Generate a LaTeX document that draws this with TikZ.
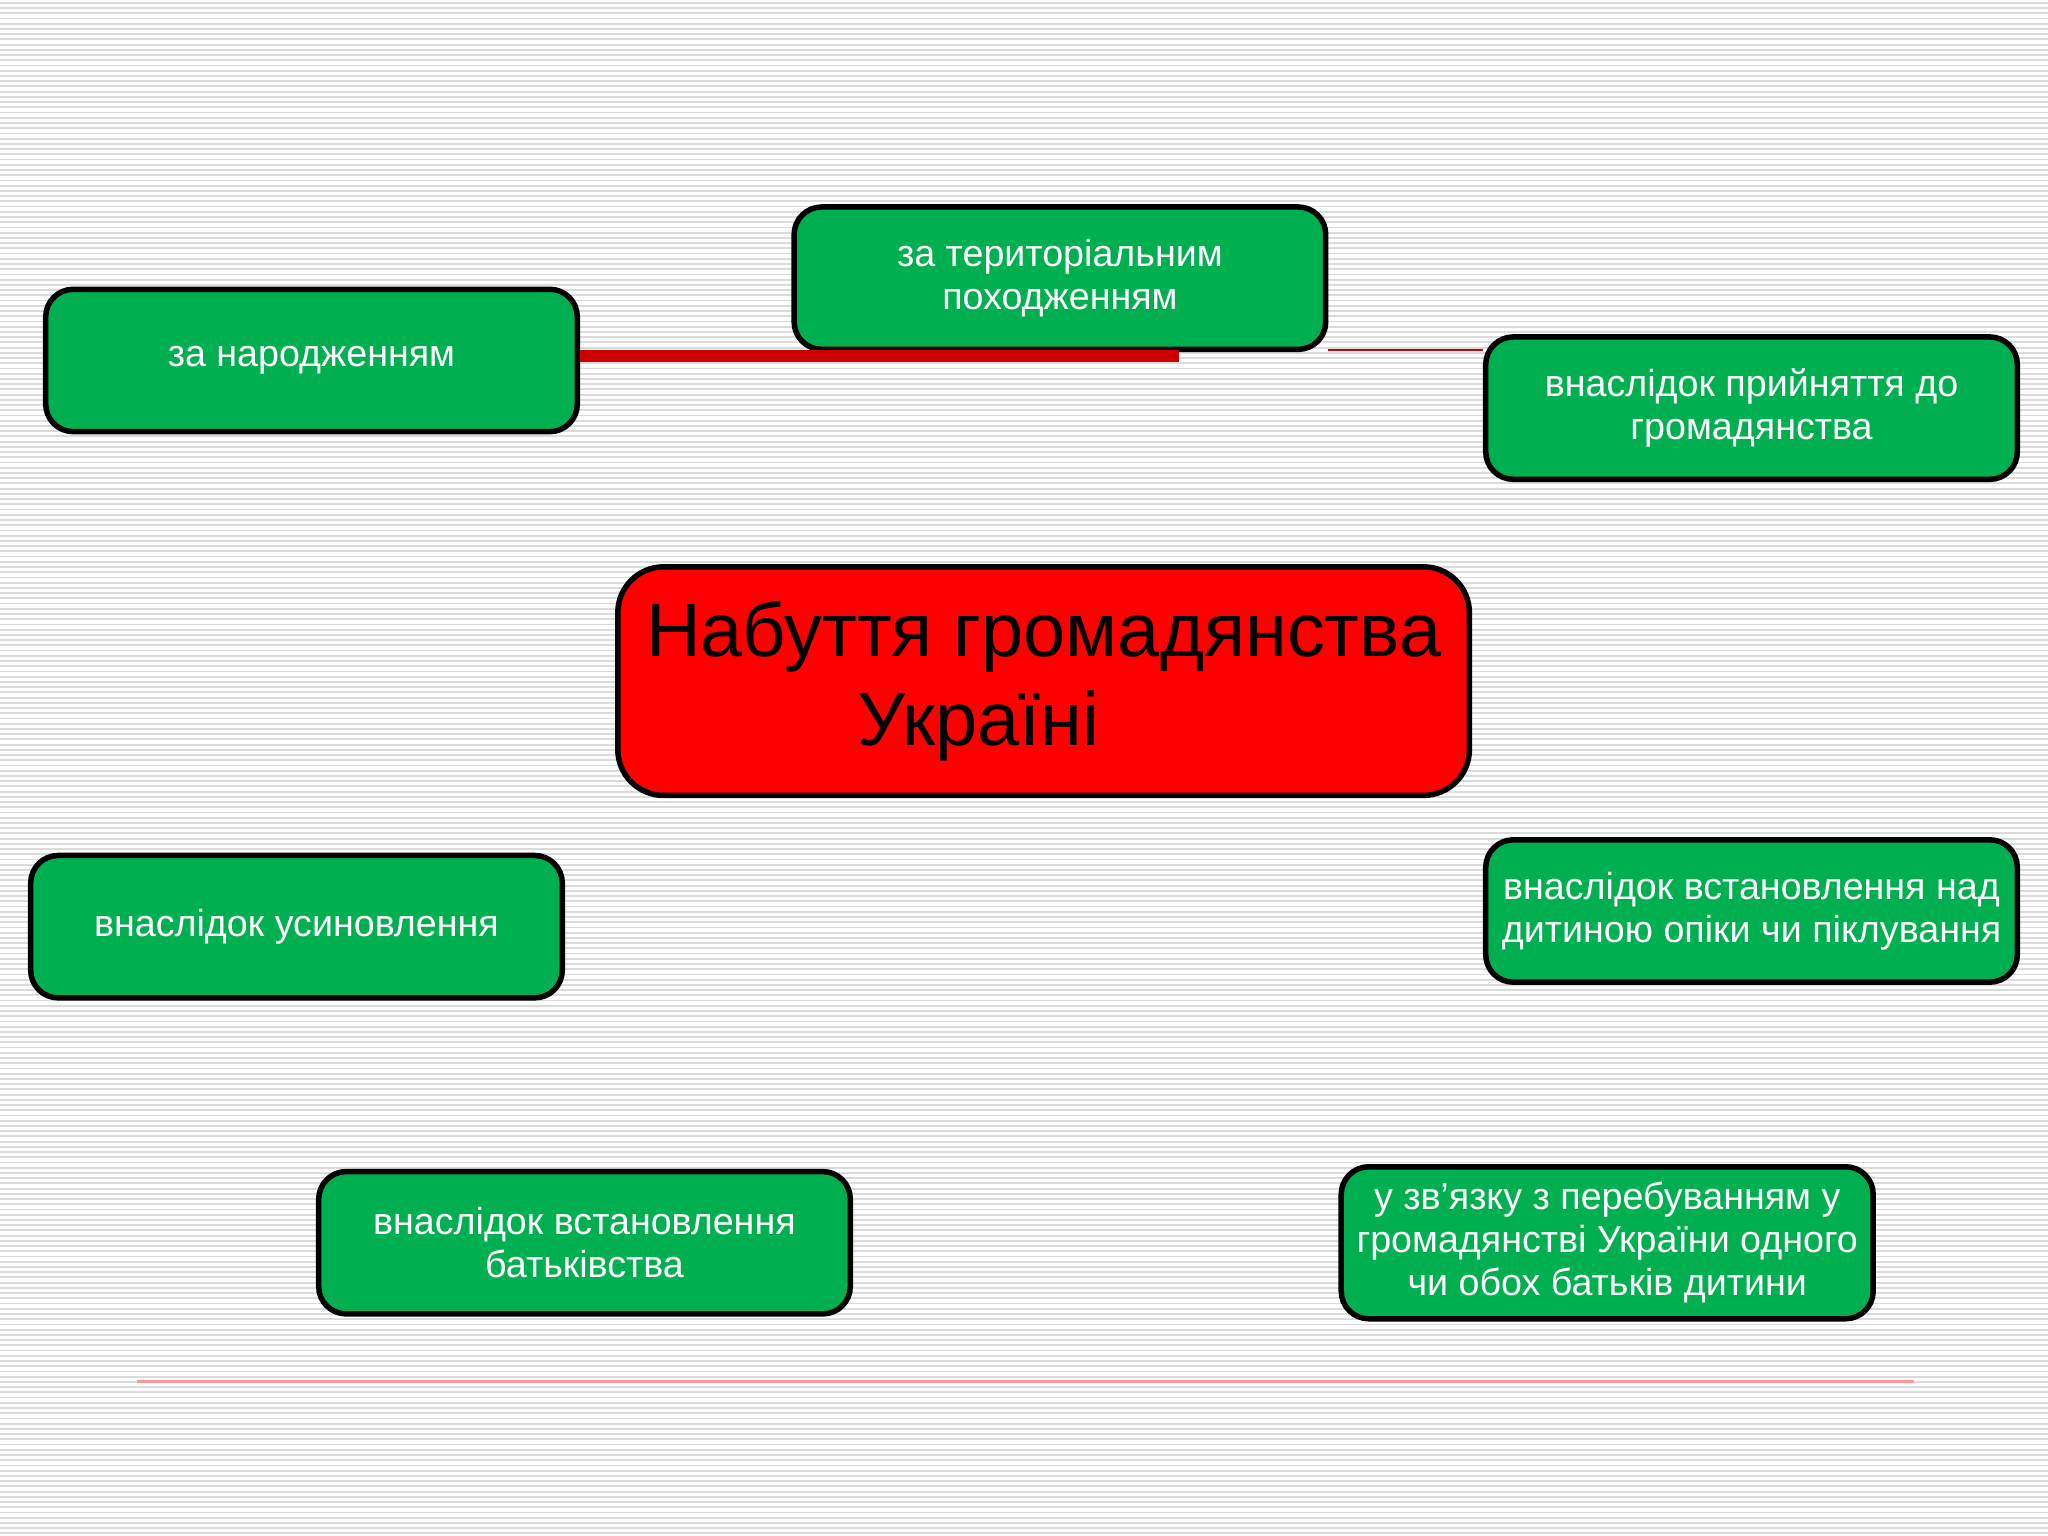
\documentclass[tikz,border=0pt]{standalone}
\usepackage{fontspec}
\setmainfont{Liberation Sans}
\usetikzlibrary{positioning}
\definecolor{boxgreen}{RGB}{0,176,80}
\definecolor{stripe}{gray}{0.86}
\tikzset{
  greenbox/.style={draw=black,line width=1.2pt,fill=boxgreen,rounded corners=6pt,
    minimum width=4.07cm,minimum height=1.09cm,text=white,align=center,
    font=\fontsize{8.2}{9.4}\selectfont},
  redbox/.style={draw=black,line width=1.2pt,fill=red,rounded corners=10pt,
    minimum width=6.52cm,minimum height=1.75cm,align=center,
    font=\fontsize{16.5}{19.5}\selectfont}
}
\begin{document}
\begin{tikzpicture}
	% background
	\useasboundingbox (0,0) rectangle (15.68,11.76);
	\fill[white] (0,0) rectangle (15.68,11.76);
	\foreach \y in {0.02,0.06,...,11.76}
		\draw[stripe,line width=0.4pt] (0,\y) -- (15.68,\y);
	
	% boxes
	\node[greenbox] (birth) at (2.385,9.0) {за народженням};
	\node[greenbox] (terr) at (8.115,9.63) {за територіальним\\походженням};
	\node[greenbox] (accept) at (13.41,8.635) {внаслідок прийняття до\\громадянства};
	\node[redbox] (main) at (7.99,6.545) {Набуття громадянства\\Україні\hspace*{1cm}};
	\node[greenbox] (adopt) at (2.27,4.665) {внаслідок усиновлення};
	\node[greenbox] (guard) at (13.41,4.785) {внаслідок встановлення над\\дитиною опіки чи піклування};
	\node[greenbox] (father) at (4.475,2.245) {внаслідок встановлення\\батьківства};
	\node[greenbox] (parents) at (12.305,2.245) {у зв'язку з перебуванням у\\громадянстві України одного\\чи обох батьків дитини};
	
	% connectors
	\coordinate (barend) at (9.03,8.99);
	\fill[red!80!black] (birth.east |- 0,9.08) rectangle (barend);
	\draw[red!80!black,line width=0.5pt] (terr.east |- 0,9.08) -- (accept.west |- 0,9.08);
	
	% bottom rule
	\draw[red!40,line width=0.6pt] (1.05,1.18) -- (14.65,1.18);
\end{tikzpicture}
\end{document}
